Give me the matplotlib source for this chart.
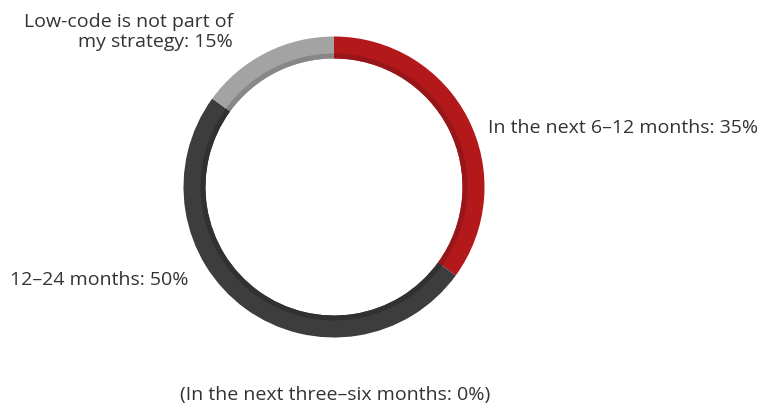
import matplotlib.pyplot as plt

# shares, clockwise from 12 o'clock
labels = ['In the next 6–12 months', '12–24 months', 'Low-code is not part of\nmy strategy']
shares = [35, 50, 15]
outer_colors = ['#b3191b', '#3d3d3d', '#a3a3a3']
inner_colors = ['#971619', '#313131', '#878787']
zero_note = '(In the next three–six months: 0%)'

W, H = 757, 406
fig = plt.figure(figsize=(W / 100, H / 100), dpi=100)
ax = fig.add_axes([0, 0, 1, 1])

cx, cy = 334, H - 188
r = 150.5
ring = 22
band = 5

ax.pie(shares, colors=outer_colors, startangle=90, counterclock=False,
       center=(cx, cy), radius=r, frame=True,
       wedgeprops=dict(width=ring, linewidth=0))
ax.pie(shares, colors=inner_colors, startangle=90, counterclock=False,
       center=(cx, cy), radius=r - ring + band, frame=True,
       wedgeprops=dict(width=band, linewidth=0))
ax.set_xlim(0, W)
ax.set_ylim(0, H)
ax.set_aspect('equal')
ax.axis('off')

txt = dict(color='#333333', fontsize=14, family='Open Sans')
ax.text(488, H - 128, f'{labels[0]}: {shares[0]}%', ha='left', va='center', **txt)
ax.text(10, H - 280, f'{labels[1]}: {shares[1]}%', ha='left', va='center', **txt)
ax.text(233, H - 32, f'{labels[2]}: {shares[2]}%', ha='right', va='center',
        multialignment='right', linespacing=1.2, **txt)
ax.text(335, H - 395, zero_note, ha='center', va='center', **txt)

fig.savefig('out.png', dpi=100)
